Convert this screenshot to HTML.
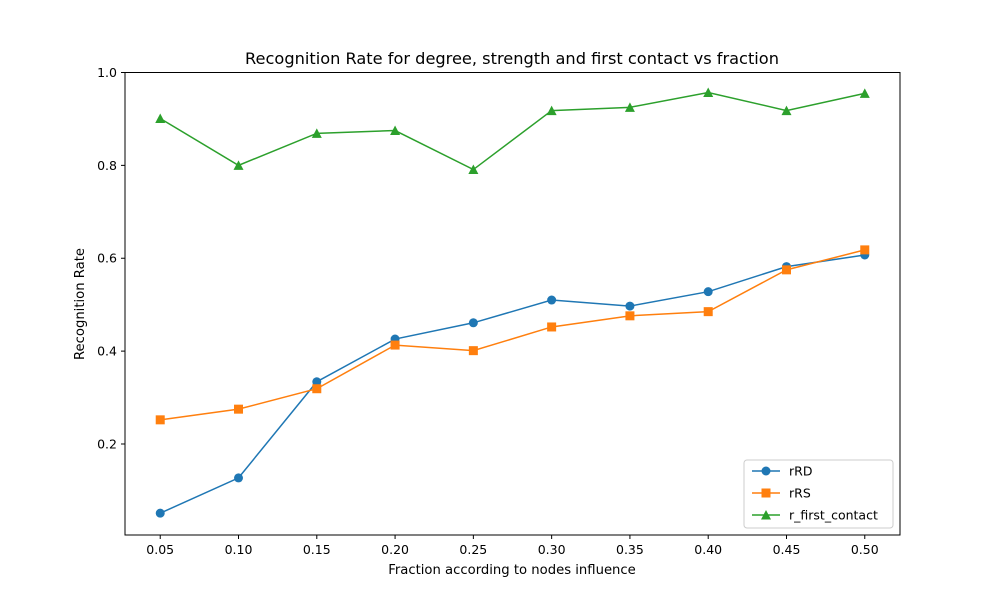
<!DOCTYPE html>
<html><head><meta charset="utf-8"><style>
body{margin:0;background:#fff}
svg text{font-family:"DejaVu Sans","Liberation Sans",sans-serif;fill:#000}
</style></head><body>
<svg id="chart" width="1000" height="600" xmlns="http://www.w3.org/2000/svg">
<rect width="1000" height="600" fill="#fff"/>
<text x="512" y="64" font-size="16.2" text-anchor="middle">Recognition Rate for degree, strength and first contact vs fraction</text>
<text x="512" y="574" font-size="13.2" text-anchor="middle">Fraction according to nodes influence</text>
<text x="0" y="0" font-size="13.2" text-anchor="middle" transform="translate(84,304) rotate(-90)">Recognition Rate</text>
<g id="plot"></g>
</svg>
<script>
const categories=[0.05,0.10,0.15,0.20,0.25,0.30,0.35,0.40,0.45,0.50];
const rRD=[0.051,0.127,0.334,0.426,0.461,0.510,0.497,0.528,0.582,0.607];
const rRS=[0.252,0.275,0.319,0.413,0.401,0.452,0.476,0.485,0.575,0.618];
const rFirst=[0.901,0.800,0.869,0.875,0.791,0.918,0.925,0.957,0.918,0.955];
const xTicks=["0.05","0.10","0.15","0.20","0.25","0.30","0.35","0.40","0.45","0.50"];
const yTicks=[0.2,0.4,0.6,0.8,1.0];

const L=125,R=900,T=72.5,B=535;
const xMin=0.0275,xMax=0.5225,yMin=0.004,yMax=1.0;
function sx(v){return L+(v-xMin)/(xMax-xMin)*(R-L);}
function sy(v){return B-(v-yMin)/(yMax-yMin)*(B-T);}
const NS="http://www.w3.org/2000/svg";
const g=document.getElementById('plot');
function mk(tag,attrs,parent){const e=document.createElementNS(NS,tag);for(const k in attrs)e.setAttribute(k,attrs[k]);(parent||g).appendChild(e);return e;}

const frame=mk('rect',{x:L,y:T,width:R-L,height:B-T,fill:'none',stroke:'#000','stroke-width':1});



categories.forEach((c,i)=>{
  const x=sx(c);
  const t=mk('line',{x1:x,x2:x,y1:B,y2:B+4,stroke:'#000'});
  
  
  const l=mk('text',{x:x,y:B+19,'font-size':12.5,'text-anchor':'middle'});
  l.textContent=xTicks[i];
  
  
});
yTicks.forEach(v=>{
  const y=sy(v);
  const t=mk('line',{x1:L-4,x2:L,y1:y,y2:y,stroke:'#000'});
  
  
  const l=mk('text',{x:L-8,y:y+4.5,'font-size':12.5,'text-anchor':'end'});
  l.textContent=v.toFixed(1);
  
  
});

function series(vals,color,marker,name){
  const sg=mk('g',{});
  
  
  const pts=vals.map((v,i)=>sx(categories[i])+','+sy(v)).join(' ');
  const pl=mk('polyline',{points:pts,fill:'none',stroke:color,'stroke-width':1.5},sg);
  
  
  vals.forEach((v,i)=>{
    const m=drawMarker(sx(categories[i]),sy(v),color,marker,sg);
    
    
  });
}
function drawMarker(x,y,color,marker,parent){
  if(marker==='o')return mk('circle',{cx:x,cy:y,r:4.5,fill:color},parent);
  if(marker==='s')return mk('rect',{x:x-4.5,y:y-4.5,width:9,height:9,fill:color},parent);
  return mk('polygon',{points:`${x},${y-5} ${x-5},${y+4.5} ${x+5},${y+4.5}`,fill:color},parent);
}
series(rRD,'#1f77b4','o','rRD');
series(rRS,'#ff7f0e','s','rRS');
series(rFirst,'#2ca02c','^','r-first-contact');

const lg=mk('g',{});


mk('rect',{x:744,y:460,width:149,height:68,rx:3,fill:'#fff',stroke:'#ccc'},lg);
[['rRD','#1f77b4','o'],['rRS','#ff7f0e','s'],['r_first_contact','#2ca02c','^']].forEach((e,i)=>{
  const y=471+i*22;
  const eg=mk('g',{},lg);
  
  
  mk('line',{x1:752,x2:780,y1:y,y2:y,stroke:e[1],'stroke-width':1.5},eg);
  drawMarker(766,y,e[1],e[2],eg);
  const t=mk('text',{x:789,y:y+4.5,'font-size':12.5},eg);
  t.textContent=e[0];
});
</script>
</body></html>
